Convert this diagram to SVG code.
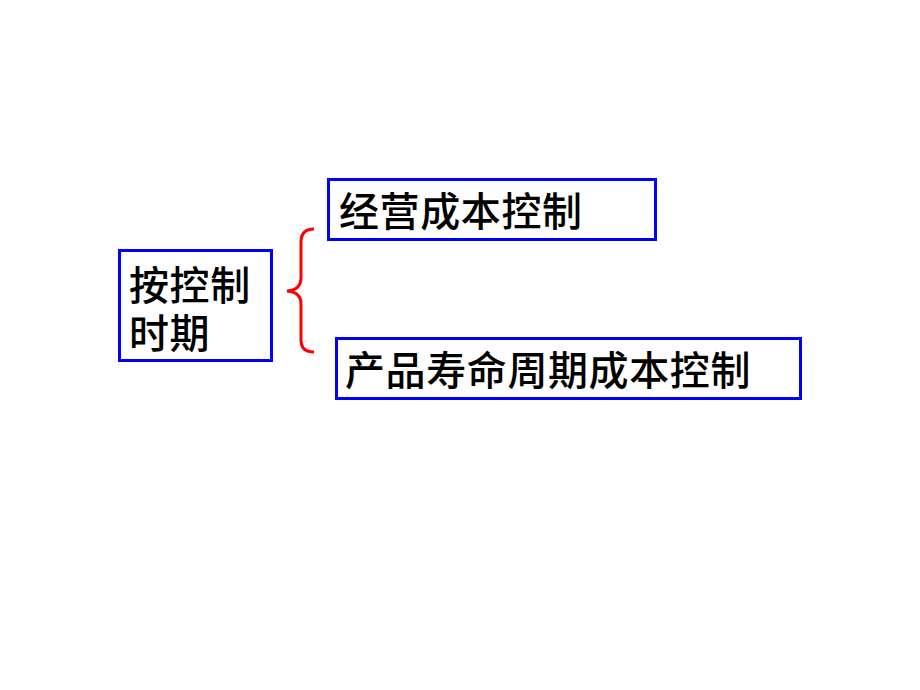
<svg xmlns="http://www.w3.org/2000/svg" width="920" height="690" viewBox="0 0 920 690">
<style>
.box{fill:#fff;stroke:#0000ff;stroke-width:3}
.t{font-family:"Noto Sans CJK SC","Liberation Sans",sans-serif;font-size:40px;letter-spacing:0.6px;fill:#000;font-weight:500}
.brace{fill:none;stroke:#ff0000;stroke-width:3}
</style>
<rect width="920" height="690" fill="#fff"/>
<g id="node-period">
<rect class="box" x="119.5" y="250.5" width="152" height="110"/>
<text class="t" x="129" y="300">按控制</text>
<text class="t" x="129" y="348">时期</text>
</g>
<g id="node-operating">
<rect class="box" x="328.5" y="179.5" width="327" height="60"/>
<text class="t" x="339" y="226">经营成本控制</text>
</g>
<g id="node-lifecycle">
<rect class="box" x="336.5" y="338.5" width="464" height="60"/>
<text class="t" x="345" y="385">产品寿命周期成本控制</text>
</g>
<g id="connectors">
<path class="brace" d="M314,229 Q301,229 301,242 L301,278 Q301,290 287,291 Q301,292 301,304 L301,340 Q301,352 314,352"/>
</g>
</svg>
